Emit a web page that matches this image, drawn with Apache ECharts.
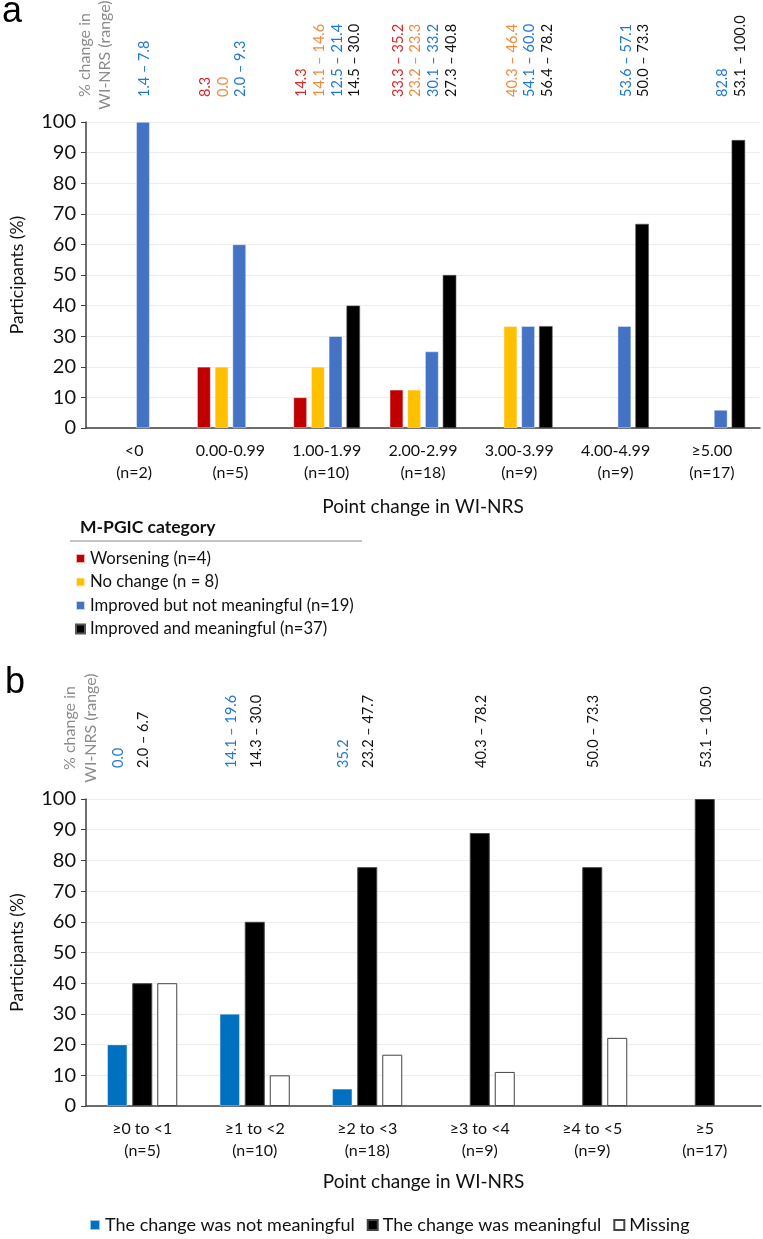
<!DOCTYPE html>
<html><head><meta charset="utf-8">
<script src="https://cdn.jsdelivr.net/npm/echarts@6/dist/echarts.min.js"></script>
<style>html,body{margin:0;padding:0;background:#fff}#c{width:763px;height:1239px}</style>
</head><body><div id="c"></div>
<script>
// ---------- Panel a data ----------
const categoriesA = ['<0\n(n=2)', '0.00-0.99\n(n=5)', '1.00-1.99\n(n=10)', '2.00-2.99\n(n=18)', '3.00-3.99\n(n=9)', '4.00-4.99\n(n=9)', '\u22655.00\n(n=17)'];
const seriesNamesA = ['Worsening (n=4)', 'No change (n = 8)', 'Improved but not meaningful (n=19)', 'Improved and meaningful (n=37)'];
const worseningA = [null, 20, 10, 12.5, null, null, null];
const noChangeA = [null, 20, 20, 12.5, 33.3, null, null];
const notMeaningfulA = [100, 60, 30, 25, 33.3, 33.3, 5.9];
const meaningfulA = [null, null, 40, 50, 33.3, 66.7, 94.1];
// % change in WI-NRS (range), per M-PGIC category
const rangeWorseningA = ['', '8.3', '14.3', '33.3 \u2013 35.2', '', '', ''];
const rangeNoChangeA = ['', '0.0', '14.1 \u2013 14.6', '23.2 \u2013 23.3', '40.3 \u2013 46.4', '', ''];
const rangeNotMeaningfulA = ['1.4 \u2013 7.8', '2.0 \u2013 9.3', '12.5 \u2013 21.4', '30.1 \u2013 33.2', '54.1 \u2013 60.0', '53.6 \u2013 57.1', '82.8'];
const rangeMeaningfulA = ['', '', '14.5 \u2013 30.0', '27.3 \u2013 40.8', '56.4 \u2013 78.2', '50.0 \u2013 73.3', '53.1 \u2013 100.0'];

// ---------- Panel b data ----------
const categoriesB = ['\u22650 to <1\n(n=5)', '\u22651 to <2\n(n=10)', '\u22652 to <3\n(n=18)', '\u22653 to <4\n(n=9)', '\u22654 to <5\n(n=9)', '\u22655\n(n=17)'];
const seriesNamesB = ['The change was not meaningful', 'The change was meaningful', 'Missing'];
const notMeaningfulB = [20, 30, 5.6, null, null, null];
const meaningfulB = [40, 60, 77.8, 88.9, 77.8, 100];
const missingB = [40, 10, 16.7, 11.1, 22.2, null];
const rangeNotMeaningfulB = ['0.0', '14.1 \u2013 19.6', '35.2', '', '', ''];
const rangeMeaningfulB = ['2.0 \u2013 6.7', '14.3 \u2013 30.0', '23.2 \u2013 47.7', '40.3 \u2013 78.2', '50.0 \u2013 73.3', '53.1 \u2013 100.0'];

const yTicks = {min: 0, max: 100, interval: 10};

const FONT = 'Lato, "Open Sans", sans-serif';
const colorsA = ['#C00000', '#FFC000', '#4472C4', '#000000'];
const textColorsA = ['#D42A2A', '#F08A3C', '#1E78D2', '#111111'];
const colorsB = ['#0070C0', '#000000', '#FFFFFF'];
const textColorsB = ['#1E78D2', '#111111'];

const BW_A = 13.5, GAP_A = 0.31;
const BW_B = 20, GAP_B = 0.25;

function annoSeries(gridIdx, n, rangesList, colors, bw, gap, count, dy) {
  return {
    type: 'custom', xAxisIndex: gridIdx, yAxisIndex: gridIdx, silent: true, clip: false, z: 10,
    data: Array.from({length: n}, (_, i) => [i, 0]),
    encode: {x: 0, y: 1},
    renderItem: function (params, api) {
      const idx = api.value(0);
      const cx = api.coord([idx, 0])[0];
      const top = params.coordSys.y;
      const step = bw * (1 + gap);
      const children = [];
      rangesList.forEach(function (arr, s) {
        const t = arr[idx];
        if (!t) return;
        const x = cx + (s - (count - 1) / 2) * step + 1.5;
        children.push({
          type: 'text', x: x, y: top - dy, rotation: Math.PI / 2,
          style: {text: t, fill: colors[s], font: '14.5px ' + FONT, align: 'left', verticalAlign: 'middle'}
        });
      });
      return {type: 'group', children: children};
    }
  };
}

function yAxis(gridIdx) {
  return {
    type: 'value', gridIndex: gridIdx, min: yTicks.min, max: yTicks.max, interval: yTicks.interval,
    name: 'Participants (%)', nameLocation: 'middle', nameGap: 60,
    nameTextStyle: {fontSize: 17.5, color: '#111', fontFamily: FONT},
    axisLine: {show: true, lineStyle: {color: '#404040', width: 1.5}},
    axisTick: {show: true, length: 5, lineStyle: {color: '#404040'}},
    axisLabel: {fontSize: 20, color: '#111', fontFamily: FONT, margin: 10},
    splitLine: {show: true, lineStyle: {color: '#EDEDED', width: 1}}
  };
}
function xAxis(gridIdx, cats, gap) {
  return {
    type: 'category', gridIndex: gridIdx, data: cats,
    name: 'Point change in WI-NRS', nameLocation: 'middle', nameGap: gap,
    nameTextStyle: {fontSize: 19, color: '#111', fontFamily: FONT},
    axisLine: {show: true, lineStyle: {color: '#404040', width: 1.5}},
    axisTick: {show: false},
    axisLabel: {fontSize: 16, lineHeight: 22, color: '#111', fontFamily: FONT, margin: 12, interval: 0}
  };
}

const chart = echarts.init(document.getElementById('c'), null, {renderer: 'canvas'});
const seriesA = [worseningA, noChangeA, notMeaningfulA, meaningfulA].map(function (d, i) {
  return {
    name: seriesNamesA[i], type: 'bar', xAxisIndex: 0, yAxisIndex: 0, data: d,
    barWidth: BW_A, barGap: (GAP_A * 100) + '%',
    itemStyle: {color: colorsA[i], borderColor: i === 3 ? '#555' : 'rgba(255,255,255,0.7)', borderWidth: 0.6},
    emphasis: {disabled: true}
  };
});
const seriesB = [notMeaningfulB, meaningfulB, missingB].map(function (d, i) {
  return {
    name: seriesNamesB[i], type: 'bar', xAxisIndex: 1, yAxisIndex: 1, data: d,
    barWidth: BW_B, barGap: (GAP_B * 100) + '%',
    itemStyle: {color: colorsB[i], borderColor: i === 0 ? 'rgba(255,255,255,0.6)' : '#444', borderWidth: i === 0 ? 0.6 : 1},
    emphasis: {disabled: true}
  };
});

chart.setOption({
  animation: false,
  backgroundColor: '#fff',
  textStyle: {fontFamily: FONT},
  grid: [
    {left: 83, right: 3, top: 122, height: 306, containLabel: false},
    {left: 83, right: 2, top: 799, height: 307, containLabel: false}
  ],
  xAxis: [xAxis(0, categoriesA, 69), xAxis(1, categoriesB, 66)],
  yAxis: [yAxis(0), yAxis(1)],
  legend: [
    {
      data: seriesNamesA, orient: 'vertical', left: 70, top: 545, itemWidth: 9, itemHeight: 9, itemGap: 6.5,
      icon: 'rect', textStyle: {fontSize: 16.7, color: '#111', fontFamily: FONT},
      selectedMode: false
    },
    {
      data: seriesNamesB, orient: 'horizontal', left: 84, top: 1211, itemWidth: 10, itemHeight: 10, itemGap: 12,
      icon: 'rect', textStyle: {fontSize: 18, color: '#111', fontFamily: FONT},
      selectedMode: false
    }
  ],
  series: seriesA.concat(seriesB).concat([
    annoSeries(0, categoriesA.length, [rangeWorseningA, rangeNoChangeA, rangeNotMeaningfulA, rangeMeaningfulA], textColorsA, BW_A, GAP_A, 4, 25),
    annoSeries(1, categoriesB.length, [rangeNotMeaningfulB, rangeMeaningfulB], textColorsB, BW_B, GAP_B, 3, 31)
  ]),
  graphic: [
    {type: 'text', left: 2, top: -6, style: {text: 'a', font: '36px "Liberation Sans", Arial, sans-serif', fill: '#000'}},
    {type: 'text', left: 5, top: 665, style: {text: 'b', font: '36px "Liberation Sans", Arial, sans-serif', fill: '#000'}},
    {type: 'text', x: 85, y: 55, rotation: Math.PI / 2, style: {text: '% change in', font: '16px ' + FONT, fill: '#8C8C8C', align: 'center', verticalAlign: 'middle'}},
    {type: 'text', x: 105, y: 55, rotation: Math.PI / 2, style: {text: 'WI-NRS (range)', font: '16px ' + FONT, fill: '#8C8C8C', align: 'center', verticalAlign: 'middle'}},
    {type: 'text', x: 70, y: 728, rotation: Math.PI / 2, style: {text: '% change in', font: '16px ' + FONT, fill: '#8C8C8C', align: 'center', verticalAlign: 'middle'}},
    {type: 'text', x: 91, y: 728, rotation: Math.PI / 2, style: {text: 'WI-NRS (range)', font: '16px ' + FONT, fill: '#8C8C8C', align: 'center', verticalAlign: 'middle'}},
    {type: 'text', left: 80, top: 518, style: {text: 'M-PGIC category', font: 'bold 17.5px ' + FONT, fill: '#111'}},
    {type: 'line', shape: {x1: 70, y1: 541, x2: 362, y2: 541}, style: {stroke: '#8C8C8C', lineWidth: 1}}
  ]
});
</script>
</body></html>
